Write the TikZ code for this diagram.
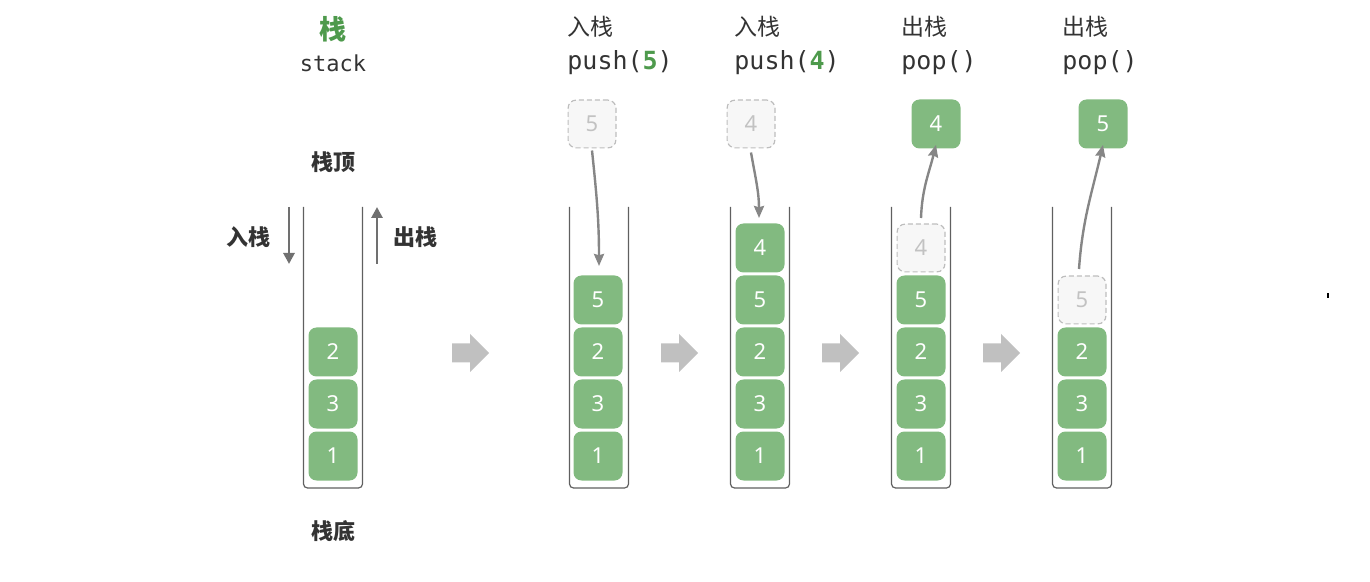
\documentclass[tikz,border=0pt]{standalone}
\usepackage{fontspec}
\setmainfont{Noto Sans}
\setmonofont{DejaVu Sans Mono}
\newfontfamily\cjk{Noto Sans CJK SC}
\usetikzlibrary{arrows.meta}
\definecolor{cellg}{HTML}{82BA80}
\definecolor{titleg}{HTML}{4E9A4C}
\definecolor{txt}{HTML}{333333}
\definecolor{ghostfill}{HTML}{F7F7F7}
\definecolor{ghostdraw}{HTML}{BDBDBD}
\definecolor{ghosttxt}{HTML}{C2C2C2}
\definecolor{wall}{HTML}{606060}
\definecolor{flow}{HTML}{868686}
\definecolor{sidearrow}{HTML}{707070}
\definecolor{blockc}{HTML}{C0C0C0}
\tikzset{
  cell/.style={fill=cellg, rounded corners=4pt, minimum width=24.5pt, minimum height=24.5pt,
    inner sep=0pt, text=white, font=\fontsize{11}{12}\selectfont},
  ghost/.style={cell, fill=ghostfill, draw=ghostdraw, dash pattern=on 2.5pt off 1.5pt,
    line width=0.6pt, minimum width=23.9pt, minimum height=23.9pt, text=ghosttxt},
  tube/.pic={\draw[wall, line width=0.6pt, rounded corners=2pt] (-29.5,0) -- (-29.5,281) -- (29.5,281) -- (29.5,0);},
  blockarrow/.pic={\fill[blockc] (0,-9.5) -- (18,-9.5) -- (18,-19) -- (37,0) -- (18,19) -- (18,9.5) -- (0,9.5) -- cycle;},
  flowarrow/.style={draw=flow, line width=1.2pt, -{Stealth[length=6pt,width=5pt,inset=0.6pt]}},
  sidearr/.style={draw=sidearrow, line width=1.4pt, -{Triangle[length=5.5pt,width=5.5pt]}},
  boldlabel/.style={text=txt, font=\cjk\bfseries\fontsize{11}{13}\selectfont, inner sep=0pt},
  headcn/.style={text=txt, font=\cjk\fontsize{11.5}{13}\selectfont, inner sep=0pt, anchor=west},
  headcode/.style={text=txt, font=\ttfamily\fontsize{12.5}{14}\selectfont, inner sep=0pt, anchor=west},
}
\begin{document}
\begin{tikzpicture}[x=0.5pt,y=-0.5pt]
\useasboundingbox (0,0) rectangle (1370,582);

% ---------- stack 1 ----------
\node[text=titleg, font=\cjk\bfseries\fontsize{13.5}{15}\selectfont, inner sep=0pt] (title) at (333,29) {栈};
\node[text=txt, font=\ttfamily\fontsize{11}{13}\selectfont, inner sep=0pt] (stk) at (333,63) {stack};
\node[boldlabel] (top) at (333,162) {栈顶};
\node[boldlabel] (bottom) at (333,531) {栈底};
\node[boldlabel] (pushlbl) at (248,237) {入栈};
\node[boldlabel] (poplbl) at (415,237) {出栈};
\coordinate (pa1) at (289,207); \coordinate (pa2) at (289,264);
\coordinate (pb1) at (377,264); \coordinate (pb2) at (377,207);
\draw[sidearr] (pa1) -- (pa2);
\draw[sidearr] (pb1) -- (pb2);
\pic at (333,207) {tube};
\node[cell] (s1a) at (333,352) {2};
\node[cell] (s1b) at (333,404) {3};
\node[cell] (s1c) at (333,456) {1};

\pic at (452,353) {blockarrow};

% ---------- stack 2 : push(5) ----------
\node[headcn] (h2a) at (567,27) {入栈};
\node[headcode] (h2b) at (567,63) {push(\textcolor{titleg}{\bfseries 5})};
\node[ghost] (g2) at (592,124) {5};
\pic at (599,207) {tube};
\node[cell] (s2a) at (598,300) {5};
\node[cell] (s2b) at (598,352) {2};
\node[cell] (s2c) at (598,404) {3};
\node[cell] (s2d) at (598,456) {1};
\coordinate (t2) at (599,266);
\draw[flowarrow] ([yshift=-1pt]g2.south) to[out=-84,in=90] (t2);

\pic at (661,353) {blockarrow};

% ---------- stack 3 : push(4) ----------
\node[headcn] (h3a) at (734,27) {入栈};
\node[headcode] (h3b) at (734,63) {push(\textcolor{titleg}{\bfseries 4})};
\node[ghost] (g3) at (751,124) {4};
\pic at (760,207) {tube};
\node[cell] (s3a) at (760,248) {4};
\node[cell] (s3b) at (760,300) {5};
\node[cell] (s3c) at (760,352) {2};
\node[cell] (s3d) at (760,404) {3};
\node[cell] (s3e) at (760,456) {1};
\coordinate (t3) at (759,218);
\draw[flowarrow] ([yshift=-2pt]g3.south) to[out=-80,in=90] (t3);

\pic at (822,353) {blockarrow};

% ---------- stack 4 : pop() ----------
\node[headcn] (h4a) at (901,27) {出栈};
\node[headcode] (h4b) at (901,63) {pop()};
\node[cell] (p4) at (936,124) {4};
\pic at (921,207) {tube};
\node[ghost] (s4a) at (921,248) {4};
\node[cell] (s4b) at (921,300) {5};
\node[cell] (s4c) at (921,352) {2};
\node[cell] (s4d) at (921,404) {3};
\node[cell] (s4e) at (921,456) {1};
\coordinate (f4) at (921,218);
\draw[flowarrow] (f4) to[out=88,in=-104] ([yshift=2pt]p4.south);

\pic at (983,353) {blockarrow};

% ---------- stack 5 : pop() ----------
\node[headcn] (h5a) at (1062,27) {出栈};
\node[headcode] (h5b) at (1062,63) {pop()};
\node[cell] (p5) at (1103,124) {5};
\pic at (1082,207) {tube};
\node[ghost] (s5a) at (1082,300) {5};
\node[cell] (s5b) at (1082,352) {2};
\node[cell] (s5c) at (1082,404) {3};
\node[cell] (s5d) at (1082,456) {1};
\coordinate (f5) at (1079,269);
\draw[flowarrow] (f5) to[out=86,in=-103] ([yshift=2pt]p5.south);

% stray mark
\fill[black] (1327,293) rectangle (1329,298);
\end{tikzpicture}
\end{document}
